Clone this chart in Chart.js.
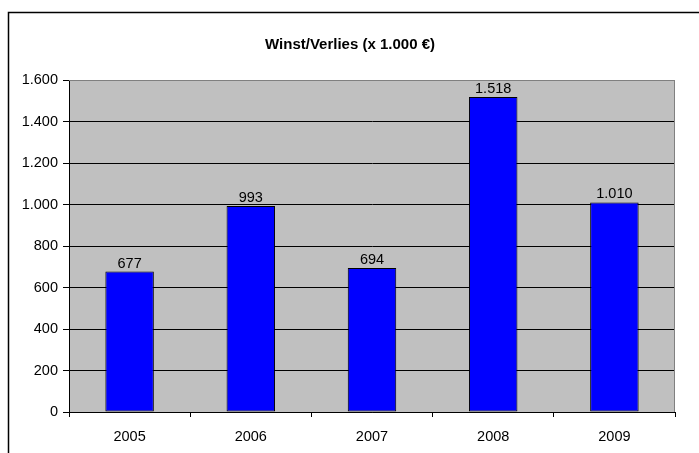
<!DOCTYPE html>
<html><head><meta charset="utf-8">
<script src="https://cdn.jsdelivr.net/npm/chart.js@4"></script>
<style>html,body{margin:0;padding:0;background:#fff}#wrap{width:699px;height:453px;position:relative}</style>
</head><body><div id="wrap"><canvas id="c" width="699" height="453"></canvas></div>
<script>
const categories = ['2005','2006','2007','2008','2009'];
const values = [677, 993, 694, 1518, 1010];
const yTicks = [0, 200, 400, 600, 800, 1000, 1200, 1400, 1600];
const title = 'Winst/Verlies (x 1.000 €)';

const FONT = 'Liberation Sans, Arial, sans-serif';
const fmt = v => v.toLocaleString('de-DE');

const deco = {
  id: 'deco',
  beforeDraw(chart) {
    const {ctx, chartArea: a} = chart;
    ctx.save();
    ctx.fillStyle = '#fff';
    ctx.fillRect(0, 0, chart.width, chart.height);
    // outer frame (left and top)
    ctx.strokeStyle = '#000';
    ctx.lineWidth = 1.5;
    ctx.beginPath();
    ctx.moveTo(8.5, chart.height);
    ctx.lineTo(8.5, 12.5);
    ctx.lineTo(chart.width, 12.5);
    ctx.stroke();
    // plot background
    ctx.fillStyle = '#C0C0C0';
    ctx.fillRect(a.left, a.top, a.right - a.left, a.bottom - a.top);
    // title
    ctx.fillStyle = '#000';
    ctx.font = 'bold 15px ' + FONT;
    ctx.textAlign = 'center';
    ctx.textBaseline = 'middle';
    ctx.fillText(title, 350, 44.5);
    ctx.restore();
  },
  afterDraw(chart) {
    const {ctx, chartArea: a} = chart;
    ctx.save();
    ctx.strokeStyle = '#808080';
    ctx.lineWidth = 1;
    ctx.beginPath();
    ctx.moveTo(a.left, a.top + 0.5);
    ctx.lineTo(a.right - 0.5, a.top + 0.5);
    ctx.lineTo(a.right - 0.5, a.bottom);
    ctx.stroke();
    ctx.restore();
  },
  afterDatasetsDraw(chart) {
    const {ctx} = chart;
    const meta = chart.getDatasetMeta(0);
    ctx.save();
    ctx.fillStyle = '#000';
    ctx.font = '14.5px ' + FONT;
    ctx.textAlign = 'center';
    ctx.textBaseline = 'alphabetic';
    meta.data.forEach((bar, i) => {
      ctx.fillText(fmt(values[i]), bar.x, bar.y - 4);
    });
    ctx.restore();
  }
};

new Chart(document.getElementById('c'), {
  type: 'bar',
  data: {
    labels: categories,
    datasets: [{
      data: values,
      backgroundColor: '#0000FF',
      borderColor: '#000',
      borderWidth: 1,
      borderSkipped: false,
      categoryPercentage: 1,
      barPercentage: 0.4
    }]
  },
  options: {
    responsive: false,
    animation: false,
    devicePixelRatio: 1,
    layout: { padding: { left: 0, right: 24, top: 80, bottom: 0 } },
    plugins: { legend: { display: false }, title: { display: false }, tooltip: { enabled: false } },
    scales: {
      x: {
        grid: { display: true, drawOnChartArea: false, offset: true, color: '#000', tickLength: 5 },
        border: { display: true, color: '#000', width: 1 },
        ticks: { color: '#000', font: { family: FONT, size: 14.5 }, padding: 11, maxRotation: 0 },
        afterFit(s) { s.height = 41; }
      },
      y: {
        min: 0, max: 1600,
        afterBuildTicks(s) { s.ticks = yTicks.map(v => ({ value: v })); },
        grid: {
          color: ctx => (ctx.tick && ctx.tick.value === 1600) ? '#808080' : '#000',
          tickColor: '#000',
          tickLength: 6,
          lineWidth: 1
        },
        border: { display: true, color: '#000', width: 1 },
        ticks: { color: '#000', font: { family: FONT, size: 14.5 }, padding: 5, callback: v => fmt(v) },
        afterFit(s) { s.width = 69; }
      }
    }
  },
  plugins: [deco]
});
</script></body></html>
